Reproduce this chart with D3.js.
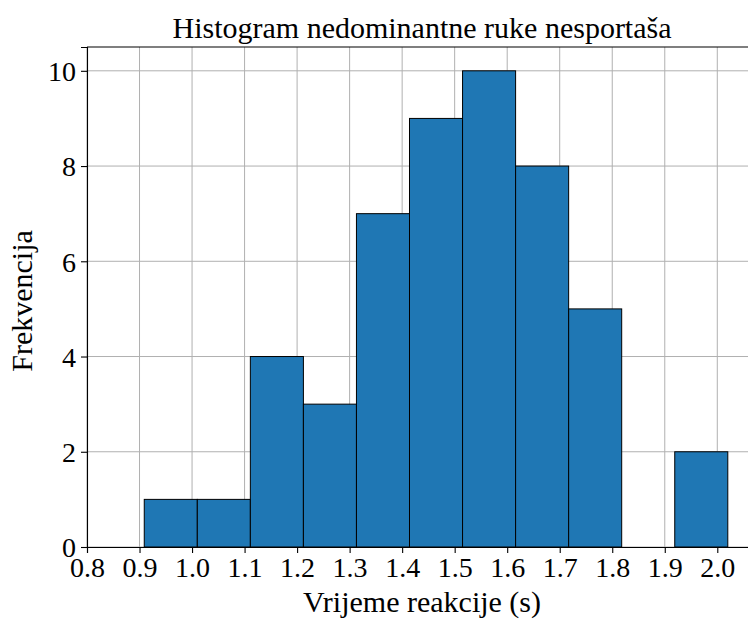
<!DOCTYPE html>
<html>
<head>
<meta charset="utf-8">
<script src="https://cdn.jsdelivr.net/npm/d3@7"></script>
<style>
  body { margin: 0; background: #fff; }
  svg { display: block; font-family: "Liberation Serif", "Times New Roman", serif; }
  svg text, .tick text { font-family: "Liberation Serif", "Times New Roman", serif !important; }
</style>
</head>
<body>
<svg id="chart" width="748" height="619"></svg>
<script>
// bin edges and counts
const binEdges = [0.909, 1.010, 1.111, 1.212, 1.313, 1.414, 1.515, 1.616, 1.717, 1.818, 1.919, 2.020];
const counts = [1, 1, 4, 3, 7, 9, 10, 8, 5, 0, 2];
const xTicks = [0.8, 0.9, 1.0, 1.1, 1.2, 1.3, 1.4, 1.5, 1.6, 1.7, 1.8, 1.9, 2.0];
const yTicks = [0, 2, 4, 6, 8, 10];

const bins = counts.map((c, i) => ({ x0: binEdges[i], x1: binEdges[i + 1], count: c }));

const svg = d3.select("svg#chart");
const margin = { top: 47, left: 87, bottom: 72 };
const plotWidth = 670;
const plotHeight = 619 - margin.top - margin.bottom;
const serif = "Liberation Serif, Times New Roman, serif";

const chartArea = svg.append("g")
  .attr("transform", `translate(${margin.left},${margin.top})`);

// xlim right edge = max + 5% margin, left edge pulled to the 0.8 tick
const xScale = d3.scaleLinear([0.8, 2.0756], [0, plotWidth]);
const yScale = d3.scaleLinear([0, 10.5], [plotHeight, 0]);

// grid
chartArea.append("g")
  .selectAll("line")
  .data(xTicks)
  .join("line")
  .attr("x1", d => xScale(d))
  .attr("x2", d => xScale(d))
  .attr("y1", 0)
  .attr("y2", plotHeight)
  .attr("stroke", "#b0b0b0")
  .attr("stroke-width", 1);

chartArea.append("g")
  .selectAll("line")
  .data(yTicks)
  .join("line")
  .attr("x1", 0)
  .attr("x2", plotWidth)
  .attr("y1", d => yScale(d))
  .attr("y2", d => yScale(d))
  .attr("stroke", "#b0b0b0")
  .attr("stroke-width", 1);

// bars
chartArea.append("g")
  .selectAll("rect")
  .data(bins.filter(b => b.count > 0))
  .join("rect")
  .attr("x", d => xScale(d.x0))
  .attr("y", d => yScale(d.count))
  .attr("width", d => xScale(d.x1) - xScale(d.x0))
  .attr("height", d => yScale(0) - yScale(d.count))
  .attr("fill", "#1f77b4")
  .attr("stroke", "#000")
  .attr("stroke-width", 1);

// axes
const xAxis = d3.axisBottom(xScale)
  .tickValues(xTicks)
  .tickFormat(d3.format(".1f"))
  .tickSizeOuter(0)
  .tickSize(6);
const xg = chartArea.append("g")
  .attr("transform", `translate(0,${plotHeight})`)
  .call(xAxis);
xg.selectAll(".tick text").attr("y", 30).attr("dy", null);

const yAxis = d3.axisLeft(yScale)
  .tickValues(yTicks)
  .tickSizeOuter(0)
  .tickSize(6);
const yg = chartArea.append("g").call(yAxis);
yg.selectAll(".tick text").attr("x", -11).attr("dy", "0.35em");

[xg, yg].forEach(g => {
  g.attr("font-family", serif).attr("font-size", 28);
  g.selectAll("text")
    .attr("font-family", serif)
    .attr("font-size", 28)
    .attr("fill", "#000");
  g.selectAll("line").attr("stroke", "#000").attr("stroke-width", 1.1);
  g.select(".domain").attr("stroke", "#000").attr("stroke-width", 1.1);
});

// top and right spines
chartArea.append("line")
  .attr("x1", 0)
  .attr("x2", plotWidth)
  .attr("y1", 0)
  .attr("y2", 0)
  .attr("stroke", "#000")
  .attr("stroke-width", 1.1);
chartArea.append("line")
  .attr("x1", plotWidth)
  .attr("x2", plotWidth)
  .attr("y1", 0)
  .attr("y2", plotHeight)
  .attr("stroke", "#000")
  .attr("stroke-width", 1.1);

// labels
svg.append("text")
  .attr("x", margin.left + plotWidth / 2)
  .attr("y", 38)
  .attr("text-anchor", "middle")
  .style("font-size", "30px")
  .text("Histogram nedominantne ruke nesportaša");

svg.append("text")
  .attr("x", margin.left + plotWidth / 2)
  .attr("y", 612)
  .attr("text-anchor", "middle")
  .style("font-size", "30px")
  .text("Vrijeme reakcije (s)");

svg.append("text")
  .attr("transform", `translate(32,${margin.top + plotHeight / 2 + 4}) rotate(-90)`)
  .attr("text-anchor", "middle")
  .style("font-size", "30px")
  .text("Frekvencija");
</script>
</body>
</html>
